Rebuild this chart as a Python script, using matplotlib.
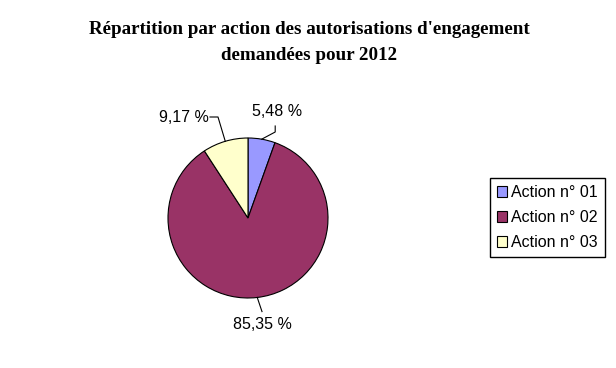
import matplotlib
matplotlib.use("Agg")
import matplotlib.pyplot as plt
import numpy as np

categories = ["Action n° 01", "Action n° 02", "Action n° 03"]
values = [5.48, 85.35, 9.17]
labels = ["5,48 %", "85,35 %", "9,17 %"]
colors = ["#9999FF", "#993366", "#FFFFCC"]

W, H = 616, 368
fig = plt.figure(figsize=(W / 100, H / 100), dpi=100)
fig.patch.set_facecolor("white")

# pie axes: center (248,218) px, radius 80 px
cx, cy, half = 248, 218, 150
ax = fig.add_axes([(cx - half) / W, (H - cy - half) / H, 2 * half / W, 2 * half / H])
lim = half / 80.0

wedges, _ = ax.pie(values, colors=colors, startangle=90, counterclock=False,
                   radius=1.0, wedgeprops=dict(edgecolor="black", linewidth=0.8))
ax.set_xlim(-lim, lim)
ax.set_ylim(-lim, lim)
ax.set_aspect("equal")
ax.axis("off")

# label placement (style): elbow and text offsets for each wedge
label_style = [
    dict(elbow=(0.34, 1.075), end=(0.34, 1.15), text=(0.36, 1.33), ha="center"),
    dict(elbow=None, end=(0.175, -1.17), text=(0.175, -1.33), ha="center"),
    dict(elbow=(-0.375, 1.2625), end=(-0.475, 1.2625), text=(-0.49, 1.2625), ha="right"),
]
for w, lab, st in zip(wedges, labels, label_style):
    ang = np.deg2rad((w.theta1 + w.theta2) / 2)
    p0 = (np.cos(ang), np.sin(ang))
    pts = [p0]
    if st["elbow"] is not None:
        pts.append(st["elbow"])
    pts.append(st["end"])
    xs, ys = zip(*pts)
    ax.plot(xs, ys, color="black", lw=0.8, clip_on=False)
    ax.text(st["text"][0], st["text"][1], lab, ha=st["ha"], va="center",
            fontsize=11.5, family="Liberation Sans", clip_on=False)

fig.text(309 / W, 1 - 30 / H, "Répartition par action des autorisations d'engagement",
         ha="center", va="center", fontsize=13.7, fontweight="bold", family="Liberation Serif")
fig.text(309 / W, 1 - 55 / H, "demandées pour 2012",
         ha="center", va="center", fontsize=13.7, fontweight="bold", family="Liberation Serif")

leg = fig.legend(wedges, categories, loc="center", bbox_to_anchor=(547.5 / W, 1 - 217.5 / H),
                 frameon=True, fancybox=False, edgecolor="black", framealpha=1,
                 prop=dict(family="Liberation Sans", size=11.5),
                 handlelength=0.65, handleheight=0.65, handletextpad=0.25,
                 labelspacing=0.62, borderpad=0.45, borderaxespad=0)
leg.get_frame().set_linewidth(1.0)
for h in leg.legend_handles:
    h.set_edgecolor("black")
    h.set_linewidth(0.8)

fig.savefig("out.png", dpi=100, facecolor="white")
